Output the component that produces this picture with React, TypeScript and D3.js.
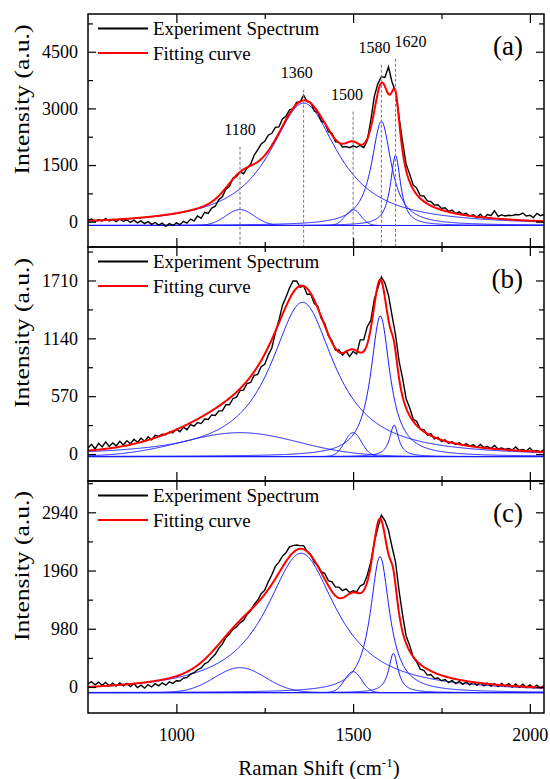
import React, { useEffect, useRef } from "react";
import * as d3 from "d3";

const FONT = '"Liberation Serif", "DejaVu Serif", serif';
const WIDTH = 550;
const HEIGHT = 779;
const LEFT = 88;
const RIGHT = 544;
const PANEL_TOPS = [14, 247, 481];
const PANEL_BOTTOMS = [247, 481, 713];

// spectrum is sampled every X_STEP cm-1 starting at X_MIN
const X_MIN = 750;
const X_MAX = 2040;
const X_STEP = 10;

const X_MAJOR = [1000, 1500, 2000];
const X_MINOR = [1250, 1750];

const PANEL_LABELS = ["(a)", "(b)", "(c)"];
const Y_DOMAINS = [[-670, 5500], [-266, 2040], [-438, 3467]];
const Y_MAJOR = [[0, 1500, 3000, 4500], [0, 570, 1140, 1710], [0, 980, 1960, 2940]];
const Y_MINOR = [[750, 2250, 3750, 5250], [285, 855, 1425, 1995], [490, 1470, 2450, 3430]];

// experiment spectra (a.u.)
const SPEC_A = [
  30, 70, 10, 60, 20, 80, 20, 60, 0, 70,
  10, 50, -20, 40, -30, 20, -50, 0, -70, -20,
  -90, -40, -120, -50, -100, -30, -80, 10, -40, 70,
  20, 150, 90, 250, 220, 360, 410, 580, 660, 860,
  930, 1150, 1190, 1320, 1270, 1420, 1520, 1760, 1900, 2060,
  2130, 2290, 2340, 2500, 2510, 2720, 2790, 2960, 2990, 3160,
  3170, 3350, 3180, 3160, 2940, 2890, 2660, 2620, 2380, 2340,
  2120, 2100, 1980, 1990, 1960, 2010, 1970, 2020, 1960, 2150,
  2680, 3320, 3650, 3840, 3820, 4100, 3700, 3450, 2760, 2110,
  1520, 1260, 970, 890, 690, 680, 550, 530, 440, 450,
  350, 370, 270, 310, 220, 260, 190, 220, 150, 180,
  110, 200, 100, 190, 160, 290, 140, 180, 150, 170,
  160, 190, 180, 230, 150, 170, 110, 220, 160, 190,
];
const SPEC_B = [
  60, 95, 50, 105, 70, 120, 75, 110, 80, 125,
  90, 130, 100, 145, 115, 155, 125, 170, 140, 185,
  175, 195, 190, 215, 210, 245, 220, 265, 240, 290,
  275, 310, 300, 345, 340, 385, 380, 425, 425, 485,
  485, 545, 560, 625, 630, 695, 705, 775, 785, 860,
  885, 975, 1045, 1195, 1315, 1465, 1545, 1635, 1705, 1705,
  1645, 1655, 1575, 1575, 1485, 1455, 1335, 1285, 1165, 1115,
  1025, 1025, 975, 1015, 960, 1010, 985, 1125, 1125, 1255,
  1315, 1525, 1635, 1745, 1685, 1565, 1365, 1175, 915, 745,
  545, 455, 345, 320, 245, 240, 185, 200, 150, 165,
  125, 140, 105, 120, 95, 110, 85, 100, 80, 90,
  65, 95, 65, 75, 55, 85, 50, 60, 45, 55,
  40, 70, 35, 45, 30, 60, 25, 35, 20, 40,
];
const SPEC_C = [
  50, 90, 35, 80, 30, 75, 20, 65, 15, 70,
  20, 60, 5, 55, -10, 30, -20, 40, 0, 55,
  20, 70, 30, 85, 60, 105, 100, 150, 160, 215,
  240, 290, 320, 390, 420, 490, 550, 650, 720, 830,
  890, 970, 1010, 1080, 1120, 1220, 1280, 1390, 1460, 1570,
  1630, 1770, 1890, 2030, 2100, 2200, 2260, 2360, 2380, 2390,
  2380, 2380, 2280, 2230, 2100, 2050, 1940, 1910, 1790, 1770,
  1680, 1680, 1620, 1650, 1590, 1620, 1600, 1700, 1730, 1880,
  2100, 2440, 2680, 2890, 2800, 2640, 2360, 2100, 1620, 1210,
  860, 700, 500, 420, 300, 280, 200, 210, 145, 150,
  105, 125, 75, 110, 55, 95, 45, 85, 35, 80,
  30, 70, 20, 65, 15, 55, 5, 60, 10, 55,
  0, 50, -5, 45, -10, 35, -15, 30, -20, 25,
];

// fitted peaks: G = gaussian (width = sigma), L = lorentzian (width = HWHM)
const PEAKS_A = [
  { center: 1180, height: 420, width: 40, shape: "G" },
  { center: 1360, height: 3240, width: 118, shape: "L" },
  { center: 1500, height: 420, width: 22, shape: "G" },
  { center: 1580, height: 2755, width: 34, shape: "L" },
  { center: 1620, height: 1855, width: 17.5, shape: "L" },
];
const PEAKS_B = [
  { center: 1180, height: 235, width: 165, shape: "G" },
  { center: 1357, height: 1520, width: 110, shape: "L" },
  { center: 1500, height: 235, width: 24, shape: "G" },
  { center: 1577, height: 1386, width: 33, shape: "L" },
  { center: 1616, height: 311, width: 15, shape: "L" },
];
const PEAKS_C = [
  { center: 1180, height: 420, width: 72, shape: "G" },
  { center: 1353, height: 2346, width: 122, shape: "L" },
  { center: 1500, height: 353, width: 24, shape: "G" },
  { center: 1576, height: 2290, width: 33, shape: "L" },
  { center: 1614, height: 662, width: 16, shape: "L" },
];
const BASELINES = [-100, -25, -95];

// guide lines in panel (a)
const ANNOT_PEAKS = [1180, 1360, 1500, 1580, 1620];
const ANNOT_TOPS = [1985, 3494, 2912, 4156, 4315];
const ANNOT_DX = [0, -7, -6, -7, 15];

const peakValue = (p, v) => {
  const d = v - p.center;
  if (p.shape === "G") return p.height * Math.exp(-(d * d) / (2 * p.width * p.width));
  return p.height / (1 + (d / p.width) * (d / p.width));
};

export default function App() {
  const ref = useRef<SVGSVGElement>(null);

  useEffect(() => {
    const svg = d3.select(ref.current);
    svg.selectAll("*").remove();

    const x = d3.scaleLinear().domain([X_MIN, X_MAX]).range([LEFT, RIGHT]);
    const grid = d3.range(X_MIN, X_MAX + 1, 2);
    const spectra = [SPEC_A, SPEC_B, SPEC_C];
    const peaks = [PEAKS_A, PEAKS_B, PEAKS_C];

    spectra.forEach((spec, i) => {
      const top = PANEL_TOPS[i];
      const bottom = PANEL_BOTTOMS[i];
      const base = BASELINES[i];
      const y = d3.scaleLinear().domain(Y_DOMAINS[i]).range([bottom, top]);
      const line = d3.line<[number, number]>().x(d => x(d[0])).y(d => y(d[1]));

      svg.append("clipPath").attr("id", "clip" + i)
        .append("rect").attr("x", LEFT).attr("y", top).attr("width", RIGHT - LEFT).attr("height", bottom - top);
      const g = svg.append("g").attr("clip-path", `url(#clip${i})`);

      // fitted components
      for (const p of peaks[i]) {
        g.append("path")
          .attr("d", line(grid.map(v => [v, base + peakValue(p, v)])))
          .attr("fill", "none").attr("stroke", "#1a1aff").attr("stroke-width", 1);
      }
      g.append("path")
        .attr("d", line(grid.map(v => [v, base])))
        .attr("fill", "none").attr("stroke", "#1a1aff").attr("stroke-width", 1.2);

      // guide lines
      if (i === 0) {
        ANNOT_PEAKS.forEach((pk, k) => {
          svg.append("line")
            .attr("x1", x(pk)).attr("x2", x(pk))
            .attr("y1", y(ANNOT_TOPS[k])).attr("y2", bottom)
            .attr("stroke", "#777").attr("stroke-width", 1).attr("stroke-dasharray", "3,2");
          svg.append("text")
            .attr("x", x(pk) + ANNOT_DX[k]).attr("y", y(ANNOT_TOPS[k]) - 12)
            .attr("text-anchor", "middle").attr("font-size", 16)
            .text(pk);
        });
      }

      // experiment
      g.append("path")
        .attr("d", line(spec.map((v, k) => [X_MIN + k * X_STEP, v])))
        .attr("fill", "none").attr("stroke", "#000").attr("stroke-width", 1.4)
        .attr("stroke-linejoin", "miter");

      // fitting curve
      g.append("path")
        .attr("d", line(grid.map(v => [v, base + d3.sum(peaks[i], p => peakValue(p, v))])))
        .attr("fill", "none").attr("stroke", "#ff0000").attr("stroke-width", 2);

      // axes
      const styleAxis = (ax) => {
        ax.select(".domain").remove();
        ax.selectAll("line").attr("stroke", "#000").attr("stroke-width", 1.2);
        ax.attr("font-size", 18).attr("font-family", null);
        ax.selectAll("text").attr("fill", "#000");
      };
      styleAxis(svg.append("g").attr("transform", `translate(${LEFT},0)`)
        .call(d3.axisLeft(y).tickValues(Y_MAJOR[i]).tickSize(-8).tickPadding(10).tickFormat(d3.format("d"))));
      styleAxis(svg.append("g").attr("transform", `translate(${LEFT},0)`)
        .call(d3.axisLeft(y).tickValues(Y_MINOR[i]).tickSize(-5).tickFormat(() => "")));
      styleAxis(svg.append("g").attr("transform", `translate(${RIGHT},0)`)
        .call(d3.axisRight(y).tickValues(Y_MAJOR[i]).tickSize(-8).tickFormat(() => "")));
      styleAxis(svg.append("g").attr("transform", `translate(${RIGHT},0)`)
        .call(d3.axisRight(y).tickValues(Y_MINOR[i]).tickSize(-5).tickFormat(() => "")));
      styleAxis(svg.append("g").attr("transform", `translate(0,${bottom})`)
        .call(d3.axisBottom(x).tickValues(X_MAJOR).tickSize(-9).tickPadding(15)
          .tickFormat(i === 2 ? d3.format("d") : () => "")));
      styleAxis(svg.append("g").attr("transform", `translate(0,${bottom})`)
        .call(d3.axisBottom(x).tickValues(X_MINOR).tickSize(-5).tickFormat(() => "")));
      styleAxis(svg.append("g").attr("transform", `translate(0,${top})`)
        .call(d3.axisTop(x).tickValues(X_MAJOR).tickSize(-9).tickFormat(() => "")));
      styleAxis(svg.append("g").attr("transform", `translate(0,${top})`)
        .call(d3.axisTop(x).tickValues(X_MINOR).tickSize(-5).tickFormat(() => "")));

      // frame
      svg.append("rect")
        .attr("x", LEFT).attr("y", top).attr("width", RIGHT - LEFT).attr("height", bottom - top)
        .attr("fill", "none").attr("stroke", "#000").attr("stroke-width", 1.5);

      // legend
      const legend = [["Experiment Spectrum", "#000", 14.5], ["Fitting curve", "#ff0000", 39]];
      for (const [name, color, dy] of legend) {
        svg.append("line")
          .attr("x1", 98).attr("x2", 148).attr("y1", top + dy).attr("y2", top + dy)
          .attr("stroke", color).attr("stroke-width", 2);
        svg.append("text")
          .attr("x", 153).attr("y", top + dy).attr("dy", "0.35em")
          .attr("font-size", 19).text(name);
      }

      svg.append("text")
        .attr("x", 523).attr("y", top + 41)
        .attr("text-anchor", "end").attr("font-size", 27)
        .text(PANEL_LABELS[i]);

      const cy = (top + bottom) / 2 - 31;
      svg.append("text")
        .attr("transform", `translate(29,${cy}) rotate(-90)`)
        .attr("text-anchor", "middle").attr("font-size", 20)
        .attr("textLength", 150).attr("lengthAdjust", "spacingAndGlyphs")
        .text("Intensity (a.u.)");
    });

    const title = svg.append("text")
      .attr("x", (LEFT + RIGHT) / 2 + 3).attr("y", 775)
      .attr("text-anchor", "middle").attr("font-size", 21);
    title.append("tspan").text("Raman Shift (cm");
    title.append("tspan").attr("font-size", 13).attr("dy", -8).text("-1");
    title.append("tspan").attr("dy", 8).text(")");
  }, []);

  return (
    <svg
      ref={ref}
      width={WIDTH}
      height={HEIGHT}
      style={{ position: "absolute", left: 0, top: 0, background: "#fff", fontFamily: FONT }}
    />
  );
}
